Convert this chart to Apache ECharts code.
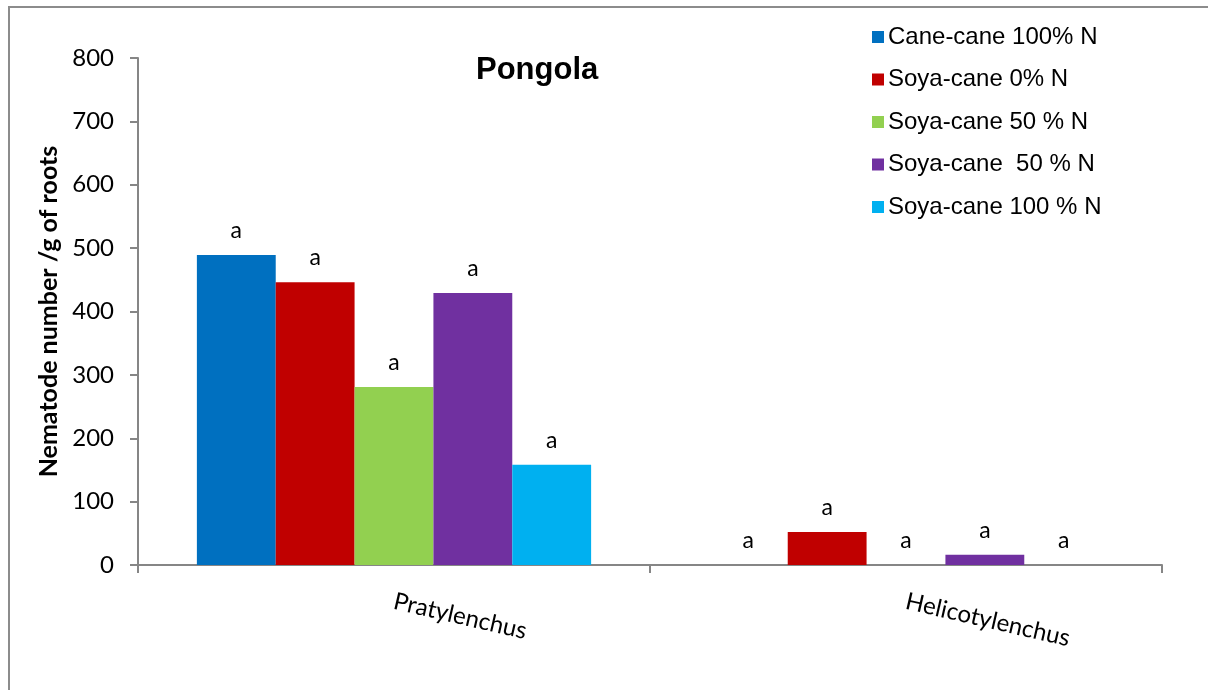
<!DOCTYPE html>
<html>
<head>
<meta charset="utf-8">
<title>Pongola</title>
<script src="https://cdn.jsdelivr.net/npm/echarts@6/dist/echarts.min.js"></script>
<style>
    html, body { margin: 0; padding: 0; background: #fff; }
    #chart { width: 1208px; height: 690px; }
</style>
</head>
<body>
<div id="chart"></div>
<script>
// categories and series values
const genera = ['Pratylenchus', 'Helicotylenchus'];
const treatments = ['Cane-cane 100% N', 'Soya-cane 0% N', 'Soya-cane 50 % N', 'Soya-cane  50 % N', 'Soya-cane 100 % N'];
const caneCane100 = [489, 0];
const soyaCane0 = [446, 52];
const soyaCane50a = [281, 0];
const soyaCane50b = [429, 16];
const soyaCane100 = [158, 0];
const letters = ['a', 'a', 'a', 'a', 'a'];
const yTicks = [0, 100, 200, 300, 400, 500, 600, 700, 800];

const colors = ['#0070C0', '#C00000', '#92D050', '#7030A0', '#00B0F0'];
const values = [caneCane100, soyaCane0, soyaCane50a, soyaCane50b, soyaCane100];
const axisGray = '#868686';

const chart = echarts.init(document.getElementById('chart'));

const series = treatments.map(function (name, i) {
    return {
        name: name,
        type: 'bar',
        barGap: 0,
        barCategoryGap: '23%',
        itemStyle: { color: colors[i] },
        label: {
            show: true,
            position: 'top',
            distance: 13,
            formatter: letters[i],
            fontFamily: 'Lato',
            fontSize: 23,
            color: '#000'
        },
        data: values[i]
    };
});

const option = {
    animation: false,
    color: colors,
    title: {
        text: 'Pongola',
        left: 471,
        top: 50,
        textStyle: {
            fontFamily: 'Liberation Sans',
            fontWeight: 'bold',
            fontSize: 31,
            color: '#000'
        }
    },
    legend: {
        orient: 'vertical',
        left: 867,
        top: 20,
        itemWidth: 12,
        itemHeight: 12,
        itemGap: 18.5,
        icon: 'rect',
        textStyle: {
            fontFamily: 'Liberation Sans',
            fontSize: 24,
            color: '#000',
            padding: [0, 0, 0, -1]
        },
        data: treatments
    },
    graphic: [{
        type: 'rect',
        shape: { x: 9, y: 7, width: 1400, height: 900 },
        style: { fill: 'none', stroke: '#8c8c8c', lineWidth: 2 },
        silent: true,
        z: -1
    }],
    grid: {
        left: 138,
        right: 46,
        top: 58,
        bottom: 125,
        containLabel: false
    },
    xAxis: {
        type: 'category',
        data: genera,
        axisLine: { lineStyle: { color: axisGray, width: 2 } },
        axisTick: { show: true, alignWithLabel: false, length: 8, lineStyle: { color: axisGray, width: 2 } },
        axisLabel: {
            rotate: -13,
            margin: 36,
            fontFamily: 'Lato',
            fontSize: 24,
            color: '#000'
        }
    },
    yAxis: {
        type: 'value',
        min: yTicks[0],
        max: yTicks[yTicks.length - 1],
        interval: yTicks[1] - yTicks[0],
        name: 'Nematode number /g of roots',
        nameLocation: 'middle',
        nameGap: 74,
        nameTextStyle: {
            fontFamily: 'Lato',
            fontWeight: 'bold',
            fontSize: 25,
            color: '#000'
        },
        splitLine: { show: false },
        axisLine: { show: true, lineStyle: { color: axisGray, width: 2 } },
        axisTick: { show: true, inside: false, length: 8, lineStyle: { color: axisGray, width: 2 } },
        axisLabel: {
            margin: 24,
            fontFamily: 'Lato',
            fontSize: 24,
            color: '#000'
        }
    },
    series: series
};

chart.setOption(option);
</script>
</body>
</html>
